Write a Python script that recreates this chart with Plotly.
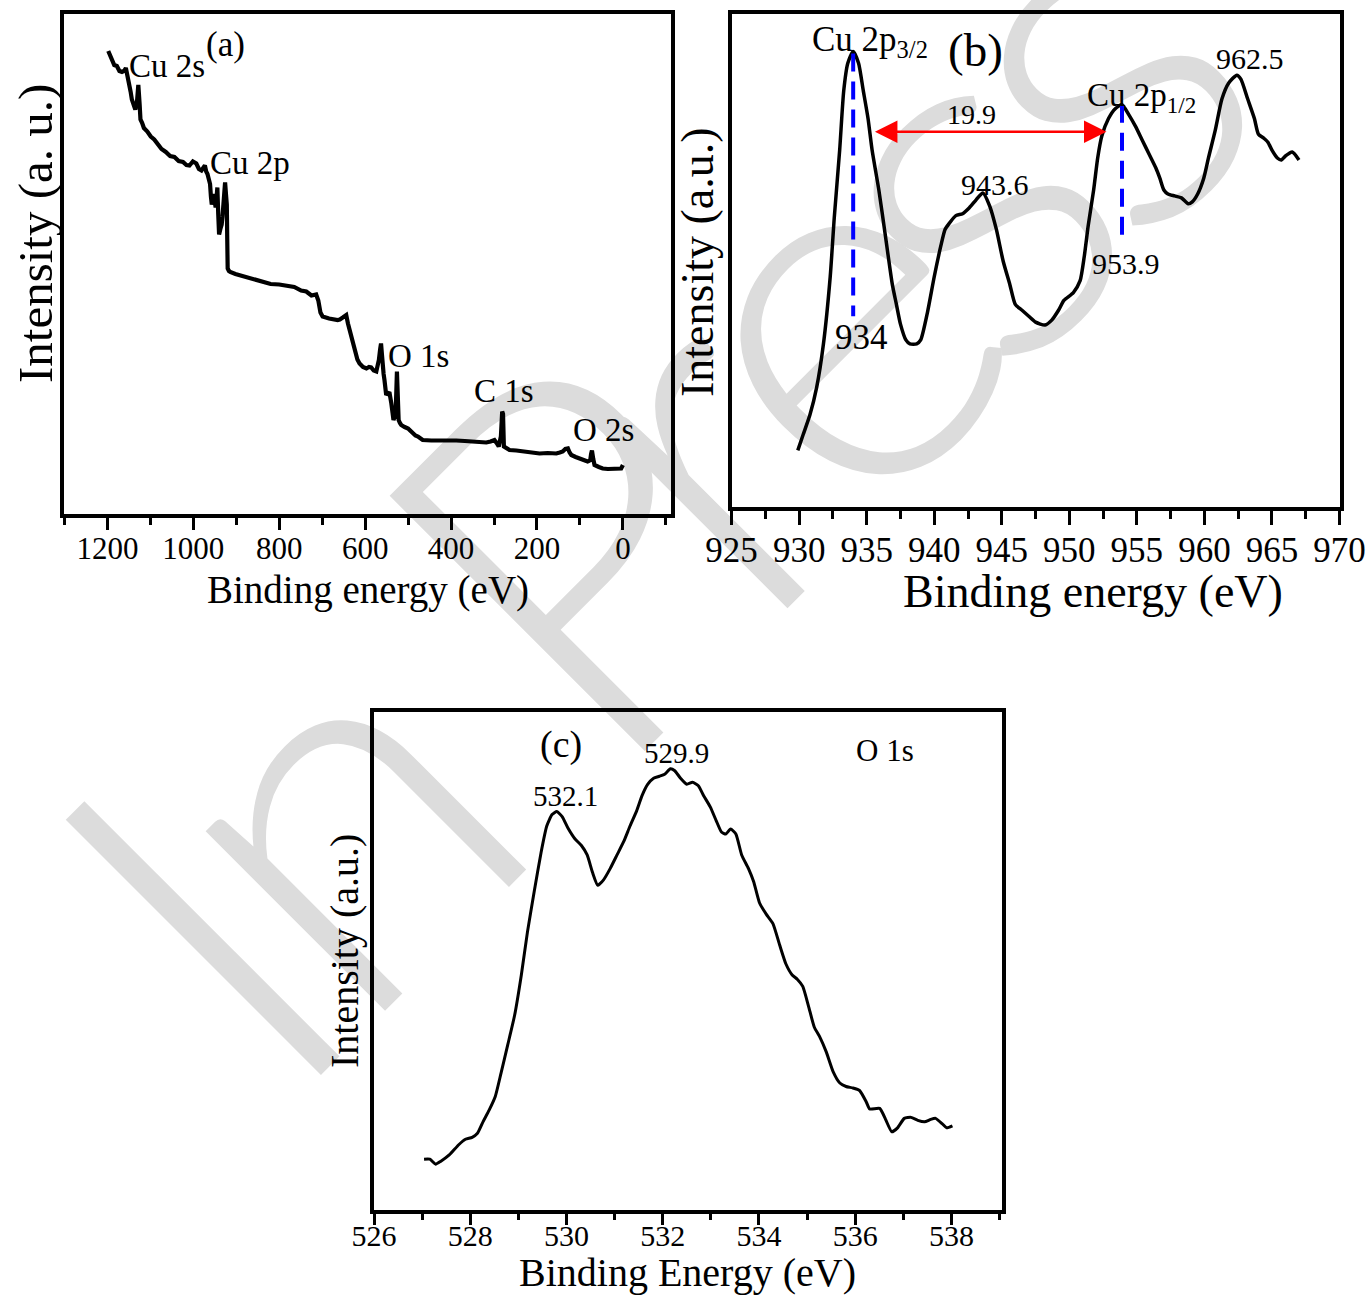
import math
import plotly.graph_objects as go

W, H = 1372, 1301


def px(x):
    return x / W


def py(y):
    return 1 - y / H


FONT = "Liberation Serif"

# ---------------- (a) survey spectrum ----------------
E_a = [1198, 1196, 1190, 1184, 1178, 1172, 1166, 1161, 1157, 1153, 1150, 1146, 1143, 1139, 1135,
       1131, 1128, 1125, 1124, 1123, 1119, 1115, 1107, 1099, 1091, 1083, 1074, 1064, 1054, 1044,
       1034, 1024, 1016, 1009, 1001, 993, 987, 981, 977, 973, 970, 967, 964, 961, 959, 957, 955,
       952, 950, 948, 946, 944, 942, 940, 937, 934, 932, 930, 928, 926, 924, 922, 921, 920, 917,
       914, 902, 890, 875, 859, 840, 820, 800, 780, 765, 749, 737, 725, 714, 709, 704, 699, 684,
       664, 659, 652, 648, 644, 640, 636, 632, 628, 624, 618, 613, 605, 597, 591, 586, 580, 574,
       571, 568, 565, 563, 561, 560, 557, 555, 551, 547, 543, 539, 536, 534, 531, 529, 526, 524,
       522, 519, 516, 508, 500, 494, 489, 483, 477, 471, 466, 446, 427, 407, 388, 368, 349, 333,
       318, 308, 299, 294, 289, 284, 281, 279, 277, 270, 264, 248, 233, 213, 194, 175, 155, 147,
       140, 134, 128, 124, 120, 110, 101, 92, 82, 79, 76, 74, 72, 69, 66, 56, 47, 35, 24, 14, 4, 0]
I_a = [92.6, 92.2, 91.1, 89.8, 89.6, 88.6, 88.4, 88.6, 89.2, 87.0, 85.6, 84.5, 82.9, 82.0, 80.9,
       82.5, 85.8, 82.0, 80.5, 78.9, 78.2, 77.2, 76.5, 75.5, 74.9, 74.1, 73.0, 72.4, 71.6, 71.4,
       70.6, 70.4, 69.8, 69.7, 70.5, 70.1, 69.0, 68.7, 69.4, 69.7, 68.5, 68.0, 67.0, 66.0, 63.5,
       61.9, 62.5, 64.0, 62.5, 61.3, 63.0, 65.3, 60.0, 55.9, 57.0, 57.9, 59.5, 61.9, 64.5, 66.3,
       64.0, 61.9, 55.0, 49.1, 48.6, 48.4, 48.0, 47.7, 47.5, 47.1, 46.5, 46.0, 45.9, 45.7, 45.4,
       44.7, 44.5, 43.7, 43.9, 42.7, 40.3, 39.5, 39.1, 38.8, 38.9, 39.3, 39.5, 39.8, 38.1, 36.8,
       35.5, 33.8, 32.1, 30.9, 30.1, 29.4, 29.1, 29.4, 29.3, 28.7, 28.5, 29.5, 30.8, 33.0, 34.1,
       32.0, 30.1, 28.0, 26.8, 23.8, 24.2, 24.1, 22.1, 20.5, 18.8, 19.5, 20.1, 28.5, 24.0, 18.8,
       18.2, 17.8, 17.4, 17.1, 16.6, 16.1, 15.7, 15.5, 15.0, 14.8, 14.7, 14.7, 14.9, 14.7, 14.6,
       14.5, 14.4, 14.3, 14.5, 14.8, 14.2, 13.5, 15.5, 20.5, 20.0, 13.5, 13.1, 12.8, 12.7, 12.5,
       12.3, 12.1, 12.2, 12.1, 12.3, 12.5, 13.0, 13.1, 12.3, 11.8, 11.4, 11.1, 10.8, 10.5, 10.6,
       10.8, 12.0, 12.7, 11.0, 9.8, 9.4, 9.1, 9.0, 9.0, 9.2, 9.1, 9.8]

# ---------------- (b) Cu 2p spectrum ----------------
E_b = [929.9, 930.3, 930.8, 931.3, 931.8, 932.3, 932.6, 933.0, 933.3, 933.6, 934.0, 934.4, 934.75,
       935.1, 935.4, 935.9, 936.4, 936.9, 937.2, 937.5, 937.9, 938.2, 938.7, 939.0, 939.5, 940.0,
       940.5, 940.8, 941.1, 941.6, 942.1, 942.6, 943.1, 943.6, 944.1, 944.6, 945.1, 945.6, 946.0,
       946.5, 947.0, 947.5, 948.2, 948.7, 949.2, 949.6, 950.3, 950.8, 951.1, 951.4, 951.8, 952.1,
       952.4, 952.9, 953.4, 953.9, 954.4, 954.9, 955.4, 955.9, 956.4, 956.7, 957.0, 957.3, 957.8,
       958.3, 958.8, 959.1, 959.5, 959.95, 960.3, 960.8, 961.3, 961.8, 962.4, 962.7, 963.2, 963.7,
       964.0, 964.4, 964.7, 965.0, 965.4, 965.7, 966.0, 966.5, 967.0]
I_b = [11.5, 14.7, 18.7, 24.3, 33.1, 46.7, 58.7, 72.4, 84.4, 90.0, 92.4, 90.0, 84.4,
       78.8, 72.4, 64.3, 54.7, 45.1, 41.1, 37.1, 33.9, 33.1, 33.1, 33.9, 39.5, 46.7,
       53.1, 56.3, 57.5, 59.1, 59.5, 60.7, 62.3, 63.7, 61.1, 56.3, 49.9, 45.1, 41.1,
       39.9, 38.7, 37.5, 36.9, 37.9, 39.9, 41.9, 43.5, 45.9, 50.7, 57.1, 64.3, 70.8,
       75.2, 78.8, 80.8, 81.6, 79.6, 77.2, 74.4, 71.6, 68.8, 66.7, 64.3, 63.5, 63.1,
       62.7, 61.5, 61.9, 63.5, 66.7, 70.8, 76.4, 82.8, 86.0, 87.6, 86.8, 82.8, 78.8,
       75.6, 74.8, 74.0, 72.4, 70.8, 70.4, 71.2, 72.0, 70.4]

# peak markers in (b)
peak_34_x = [934.0, 934.0]
peak_34_y = [92.0, 38.7]
peak_12_x = [953.9, 953.9]
peak_12_y = [81.6, 54.3]
split_from, split_to, split_level = 935.5, 952.75, 76.1

# ---------------- (c) O 1s spectrum ----------------
E_c = [527.04, 527.16, 527.28, 527.39, 527.57, 527.76, 527.90, 528.04, 528.15, 528.27, 528.39,
       528.52, 528.64, 528.78, 528.92, 529.06, 529.19, 529.33, 529.47, 529.59, 529.70, 529.80,
       529.91, 530.03, 530.17, 530.31, 530.43, 530.54, 530.65, 530.77, 530.91, 531.05, 531.19,
       531.32, 531.46, 531.57, 531.69, 531.81, 531.93, 532.04, 532.16, 532.25, 532.37, 532.50,
       532.62, 532.74, 532.85, 532.99, 533.11, 533.22, 533.31, 533.41, 533.52, 533.64, 533.78,
       533.89, 534.01, 534.15, 534.29, 534.43, 534.56, 534.69, 534.80, 534.91, 535.03, 535.15,
       535.26, 535.40, 535.54, 535.68, 535.81, 535.95, 536.09, 536.23, 536.30, 536.51, 536.63,
       536.76, 536.88, 537.02, 537.16, 537.30, 537.44, 537.57, 537.67, 537.81, 537.90, 538.02]
I_c = [10.2, 10.2, 9.2, 9.8, 11.1, 13.1, 14.2, 14.6, 15.4, 17.8, 20.0,
       22.8, 27.5, 33.2, 39.0, 47.1, 55.9, 64.0, 71.7, 77.1, 79.4, 80.0,
       79.0, 76.7, 74.6, 73.2, 71.3, 67.8, 65.2, 66.3, 68.6, 71.3, 74.0,
       77.1, 80.2, 83.2, 85.5, 86.7, 87.1, 87.5, 88.6, 88.2, 86.7, 85.5,
       85.9, 85.2, 83.2, 80.9, 78.2, 75.9, 75.5, 76.5, 75.5, 71.3, 68.6,
       65.9, 61.7, 59.4, 57.5, 53.2, 49.4, 47.2, 46.3, 44.9, 40.9, 36.7,
       34.8, 31.7, 27.8, 25.5, 24.8, 24.5, 24.0, 21.7, 20.3, 20.4, 18.2,
       15.7, 16.5, 18.4, 18.6, 18.0, 17.7, 18.2, 18.4, 17.3, 16.5, 16.9]

# watermark letters of "In Press" and their positions along the slanted baseline
WM_LETTERS = ["I", "n", "P", "r", "e", "s", "s"]
WM_ALONG = [-520, -344, 19, 175, 359, 543, 727]
WM_SIZE = 510
WM_FONT = "Lato, Liberation Sans, sans-serif"

fig = go.Figure()

fig.add_trace(go.Scatter(x=E_a, y=I_a, mode="lines", line=dict(color="black", width=4.2),
                         xaxis="x", yaxis="y", showlegend=False, hoverinfo="skip"))
fig.add_trace(go.Scatter(x=E_b, y=I_b, mode="lines",
                         line=dict(color="black", width=3.5, shape="spline", smoothing=0.6),
                         xaxis="x2", yaxis="y2", showlegend=False, hoverinfo="skip"))
for xs, ys in [(peak_34_x, peak_34_y), (peak_12_x, peak_12_y)]:
    fig.add_trace(go.Scatter(x=xs, y=ys, mode="lines",
                             line=dict(color="#0000ff", width=4, dash="18px,10px"),
                             xaxis="x2", yaxis="y2", showlegend=False, hoverinfo="skip"))
fig.add_trace(go.Scatter(x=E_c, y=I_c, mode="lines",
                         line=dict(color="black", width=3, shape="spline", smoothing=0.5),
                         xaxis="x3", yaxis="y3", showlegend=False, hoverinfo="skip"))

frame = dict(showline=True, linewidth=3.5, linecolor="black", mirror=True,
             showgrid=False, zeroline=False, automargin=False)


def xax(domain, rng, dtick, minor_dtick, size, ticklen, standoff, anchor):
    return dict(domain=domain, range=rng, dtick=dtick, tick0=0, ticks="outside",
                ticklen=ticklen, tickwidth=3, tickcolor="black", ticklabelstandoff=standoff,
                minor=dict(dtick=minor_dtick, tick0=0, ticks="outside", ticklen=ticklen // 2 + 1,
                           tickwidth=3, tickcolor="black"),
                tickfont=dict(family=FONT, size=size, color="black"), anchor=anchor, **frame)


def yax(domain, anchor):
    return dict(domain=domain, range=[0, 100], showticklabels=False, ticks="", anchor=anchor, **frame)


fig.update_layout(
    width=W, height=H, margin=dict(l=0, r=0, t=0, b=0, pad=0), autosize=False,
    paper_bgcolor="white", plot_bgcolor="rgba(0,0,0,0)",
    xaxis=xax([px(64), px(671)], [1301, -112], 200, 100, 31, 12, -8, "y"),
    yaxis=yax([py(514), py(14)], "x"),
    xaxis2=xax([px(731.6), px(1339.5)], [925, 970], 5, 2.5, 35, 14, -5, "y2"),
    yaxis2=yax([py(507), py(14)], "x2"),
    xaxis3=xax([px(374), px(1002)], [526, 539.05], 2, 1, 30, 11, -15, "y3"),
    yaxis3=yax([py(1210), py(712)], "x3"),
    hovermode=False,
)

# watermark (drawn beneath the data)
BASE_U = -987.0
r2 = math.sqrt(2)
for ch, b in zip(WM_LETTERS, WM_ALONG):
    u = BASE_U + 0.40 * WM_SIZE
    cx = (b - u) / r2
    cy = -(b + u) / r2
    fig.add_shape(type="rect", xref="paper", yref="paper",
                  x0=px(cx - 2), x1=px(cx + 2), y0=py(cy + 2), y1=py(cy - 2),
                  line=dict(width=0), fillcolor="rgba(0,0,0,0)", layer="below",
                  label=dict(text=ch, textangle=-45, textposition="middle center",
                             font=dict(family=WM_FONT, size=WM_SIZE, color="#dcdcdc", weight=300)))


def note(text, x, y, size, angle=0):
    fig.add_annotation(text=text, x=px(x), y=py(y), xref="paper", yref="paper",
                       showarrow=False, xanchor="center", yanchor="middle", textangle=angle,
                       font=dict(family=FONT, size=size, color="black"))


# axis titles
note("Binding energy (eV)", 368, 590, 39)
note("Intensity (a. u.)", 35, 234, 49, -90)
note("Binding energy (eV)", 1093, 591, 46)
note("Intensity (a.u.)", 697, 262, 46, -90)
note("Binding Energy (eV)", 687, 1272, 40)
note("Intensity (a.u.)", 344, 951, 40, -90)

# panel (a) labels
note("Cu 2s", 167, 66, 33)
note("(a)", 225, 45, 35)
note("Cu 2p", 250, 163, 33)
note("O 1s", 418, 356, 33)
note("C 1s", 504, 391, 33)
note("O 2s", 603, 430, 33)

# panel (b) labels
note("Cu 2p<sub>3/2</sub>", 870, 42, 35)
note("(b)", 975, 50, 47)
note("19.9", 971, 114, 28)
note("Cu 2p<sub>1/2</sub>", 1141, 98, 33)
note("943.6", 995, 184, 30)
note("962.5", 1250, 58, 30)
note("953.9", 1126, 263, 30)
note("934", 861, 338, 35)

# panel (c) labels
note("(c)", 561, 744, 38)
note("529.9", 676, 753, 29)
note("532.1", 565, 796, 29)
note("O 1s", 885, 750, 31)

# splitting arrow
fig.add_annotation(x=split_to, y=split_level, ax=split_from, ay=split_level,
                   xref="x2", yref="y2", axref="x2", ayref="y2", text="",
                   showarrow=True, arrowhead=2, arrowside="end+start", arrowsize=1.8,
                   arrowwidth=2.5, arrowcolor="#ff0000")

fig.write_html("out.html", config={"displayModeBar": False},
               post_script="document.body.style.margin='0';")
